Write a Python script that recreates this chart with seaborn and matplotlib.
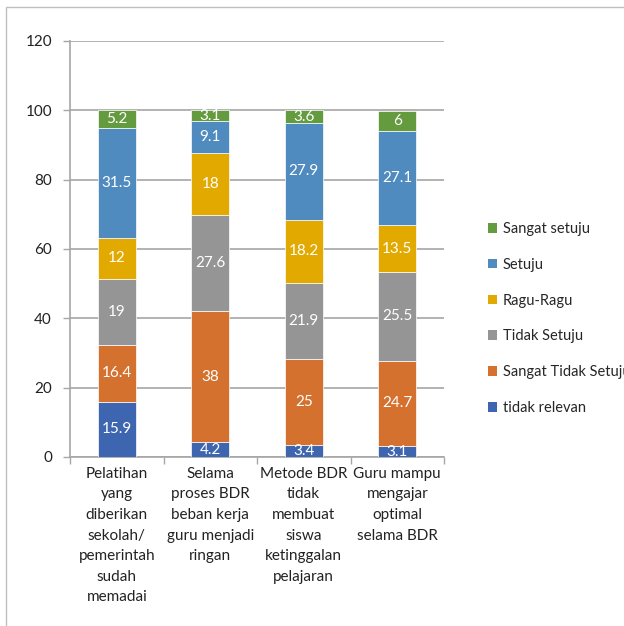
import numpy as np
import pandas as pd
import matplotlib
matplotlib.use("Agg")
import matplotlib.pyplot as plt
from matplotlib.patches import Patch, Rectangle
import seaborn as sns

categories = [
    "Pelatihan\nyang\ndiberikan\nsekolah/\npemerintah\nsudah\nmemadai",
    "Selama\nproses BDR\nbeban kerja\nguru menjadi\nringan",
    "Metode BDR\ntidak\nmembuat\nsiswa\nketinggalan\npelajaran",
    "Guru mampu\nmengajar\noptimal\nselama BDR",
]
tidak_relevan = [15.9, 4.2, 3.4, 3.1]
sangat_tidak_setuju = [16.4, 38, 25, 24.7]
tidak_setuju = [19, 27.6, 21.9, 25.5]
ragu_ragu = [12, 18, 18.2, 13.5]
setuju = [31.5, 9.1, 27.9, 27.1]
sangat_setuju = [5.2, 3.1, 3.6, 6]

series_names = ["Sangat setuju", "Setuju", "Ragu-Ragu", "Tidak Setuju",
                "Sangat Tidak Setuju", "tidak relevan"]
series_vals = [sangat_setuju, setuju, ragu_ragu, tidak_setuju,
               sangat_tidak_setuju, tidak_relevan]
colors = ["#649B3F", "#4F8BBF", "#E2A900", "#959595", "#D5712F", "#3D65B0"]
yticks = [0, 20, 40, 60, 80, 100, 120]

rows = []
for name, vals in zip(series_names, series_vals):
    for i, v in enumerate(vals):
        rows.append({"pos": i, "series": name, "value": v})
df = pd.DataFrame(rows)

sns.set_theme(style="white")
plt.rcParams["font.family"] = ["Lato", "DejaVu Sans"]

fig = plt.figure(figsize=(6.24, 6.26), dpi=100)
ax = fig.add_axes([70 / 624, 1 - 457 / 626, 374 / 624, 416 / 626])

sns.histplot(data=df, x="pos", weights="value", hue="series",
             hue_order=series_names, palette=colors, multiple="stack",
             discrete=True, shrink=0.41, alpha=1, edgecolor="white",
             linewidth=0.5, legend=False, ax=ax, zorder=3)

for p in ax.patches:
    h = p.get_height()
    if h > 0:
        ax.text(p.get_x() + p.get_width() / 2, p.get_y() + h / 2, f"{h:g}",
                ha="center", va="center", color="white", fontsize=11, zorder=4)

ax.set_xlim(-0.5, len(categories) - 0.5)
ax.set_ylim(0, 120)
ax.set_yticks(yticks)
ax.set_yticklabels([str(t) for t in yticks], fontsize=11, color="#222222")
ax.yaxis.grid(True, color="#A6A6A6", linewidth=1.2, zorder=0)
ax.set_axisbelow(True)
ax.set_xticks(np.arange(-0.5, len(categories), 1.0))
ax.set_xticklabels([])
ax.set_xticks(np.arange(len(categories)), minor=True)
ax.set_xticklabels(categories, minor=True, fontsize=11, color="#222222",
                   linespacing=1.6, va="top")
ax.tick_params(axis="x", which="major", length=5, width=1, color="#A6A6A6",
               direction="out", bottom=True)
ax.tick_params(axis="x", which="minor", length=0, pad=7)
ax.tick_params(axis="y", length=5, width=1, color="#A6A6A6", direction="out",
               left=True, pad=8)
for s in ["top", "right"]:
    ax.spines[s].set_visible(False)
for s in ["left", "bottom"]:
    ax.spines[s].set_color("#A6A6A6")
    ax.spines[s].set_linewidth(1.2)
ax.set_xlabel("")
ax.set_ylabel("")

handles = [Patch(facecolor=c, edgecolor="none") for c in colors]
fig.legend(handles, series_names, loc="center left",
           bbox_to_anchor=(488 / 624, 1 - 318.5 / 626), frameon=False,
           fontsize=10.5, labelspacing=1.5, handlelength=0.65,
           handleheight=0.65, handletextpad=0.35, borderpad=0,
           borderaxespad=0)

fig.patches.append(Rectangle((6 / 624, -0.5), 2, 1 - 7 / 626 + 0.5,
                             transform=fig.transFigure, fill=False,
                             edgecolor="#BFBFBF", linewidth=1))

fig.savefig("out.png", dpi=100)
